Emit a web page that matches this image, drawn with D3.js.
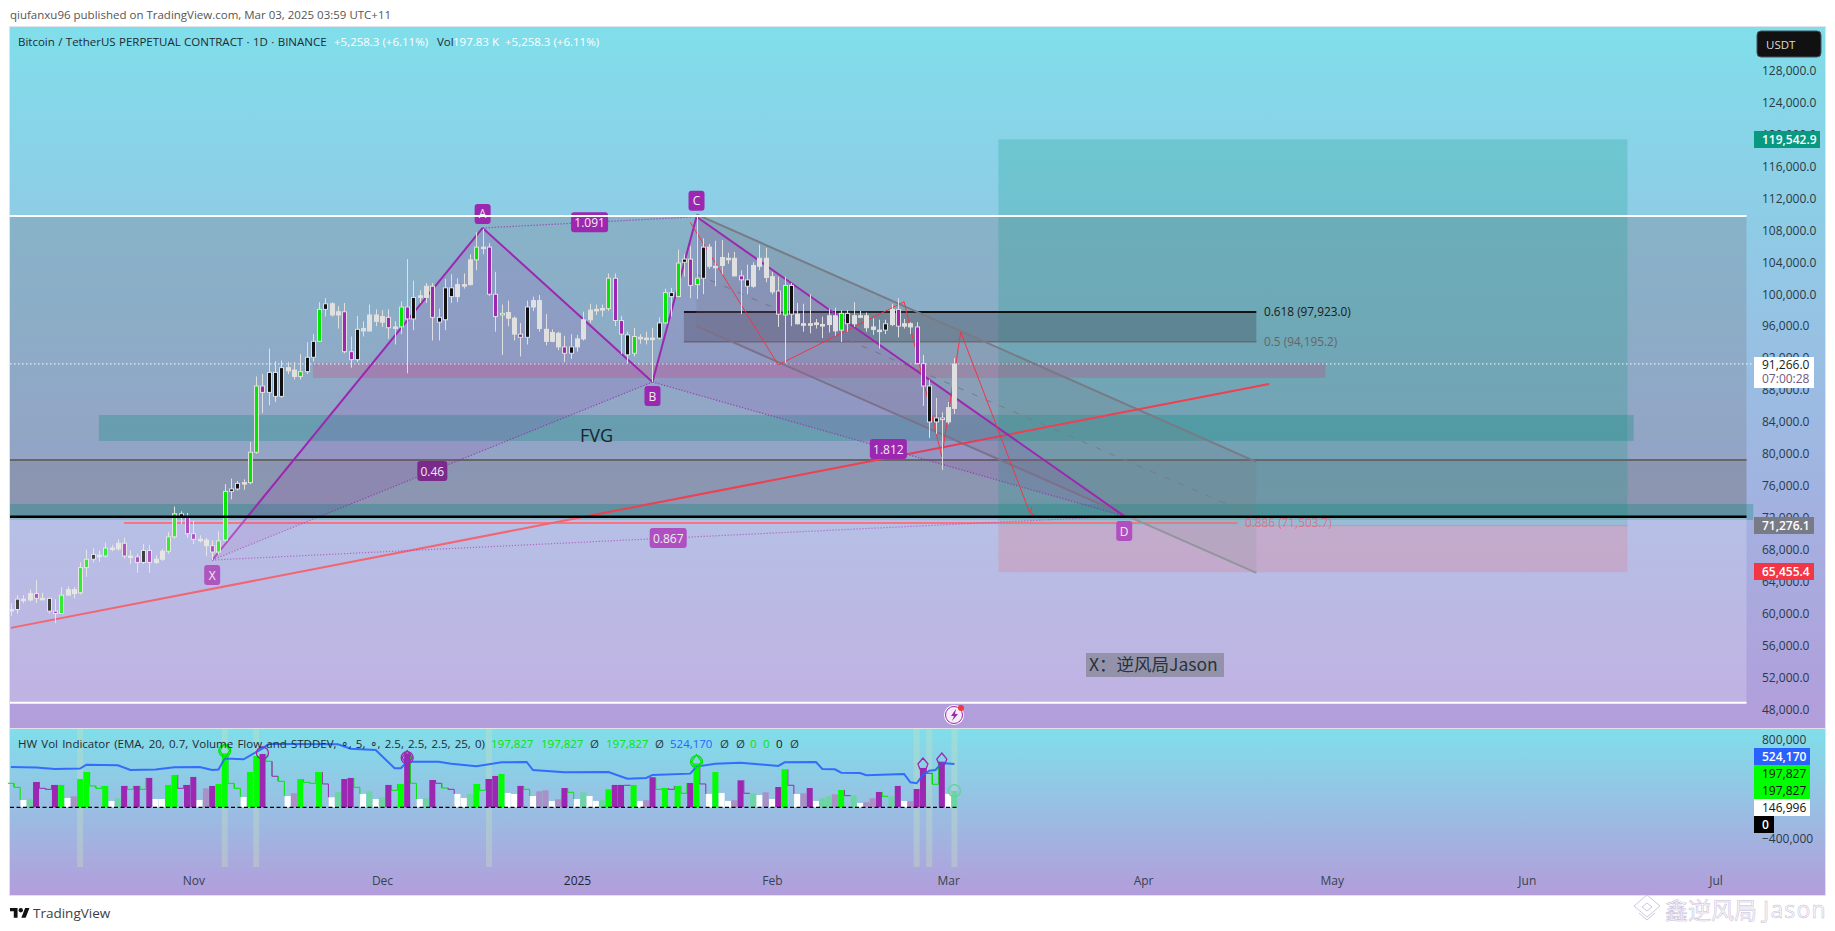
<!DOCTYPE html>
<html>
<head>
<meta charset="utf-8">
<style>
  html, body { margin: 0; padding: 0; background: #fff; overflow: hidden; }
  text { font-family: "Open Sans", sans-serif; }
  .cjk { font-family: "Noto Sans CJK SC", sans-serif; }
</style>
<script src="https://cdn.jsdelivr.net/npm/d3@7"></script>
</head>
<body>
<svg id="chart" width="1835" height="931"></svg>
<script>
// daily bars, first one is 2024-10-03
var firstBar = "2024-10-03";

var opens = [
  60500,60500,61800,61700,62500,61900,61900,60300,60000,62300,63000,62600,65750,66800,67300,67200,68200,68100,68800,67200,67100,66400,67900,66400,66800,67800,69600,72500,72100,
  70000,69300,69200,68500,67700,69200,75300,75600,76400,76400,80200,88500,87700,90200,87200,90800,90500,89700,90300,92100,94100,98100,98800,97400,97800,92800,91800,95700,95400,97400,
  96500,97100,95900,95900,98400,96900,99600,99600,101000,97100,96800,100800,99700,101200,101200,104300,105900,105900,100000,97400,97700,97000,95000,94600,98400,99200,95600,94100,95100,93400,92600,
  93400,94400,96800,98000,98100,98200,102000,96700,94900,92600,94600,94500,94500,94500,96400,100200,99700,104000,104400,101200,102000,105900,103500,103600,104500,104500,102300,101800,101000,103500,104500,
  102200,100400,97400,101100,97500,96300,96300,96400,96200,96200,97300,95500,97600,96300,97300,97300,95900,95500,95500,96200,98100,96300,96300,95900,91300,88500,84000,84500,
  84000,85700
];
var highs = [
  61300,62300,62300,63000,64200,62600,62000,61800,63300,63400,63300,66400,68000,68200,67900,68900,68600,69300,69500,67900,67500,68700,68600,67300,68100,70200,73400,72800,72600,
  71600,69800,69500,69200,70300,76200,76900,76600,76800,81500,89700,90000,93200,91600,91700,91500,91500,92500,94000,95000,99000,99500,99000,98500,98900,94700,97300,96600,98700,98100,
  98000,98100,96600,99100,104400,101700,100500,101400,101400,98200,101900,102500,102000,102600,105000,107800,108200,106400,102800,98700,99200,97200,96400,99200,99700,99900,97500,95600,95300,94800,95000,
  94900,97800,98800,98700,98700,102600,102600,97300,95300,95800,95000,95300,95800,97100,100700,100800,105600,105000,106000,109900,107000,106300,106700,106800,105200,105300,103000,103700,104000,106200,105800,
  102800,102200,102200,101400,98900,98800,100000,96900,97200,98200,98300,98000,98000,99000,97900,97700,97000,96800,96800,98800,99500,96900,96500,96500,92400,89300,87000,85200,
  86500,92000
];
var lows = [
  59700,60000,61300,61500,61300,61700,60000,58800,60000,62300,61900,62400,64600,66400,66500,67000,67800,67900,66900,66200,65100,66200,65100,66200,66600,67500,69400,71200,69500,
  68700,68900,67200,66700,67400,69000,74300,75400,75500,76200,80000,85100,86100,86500,87000,90000,89300,89300,90000,91600,94000,97200,97200,95700,92600,90800,91500,94700,95300,96000,
  95900,94400,93700,95000,90100,95500,98900,98900,94200,94200,95500,98900,99000,100700,101100,103000,105000,99800,95300,92400,96000,94200,92200,93700,97900,95300,93600,94000,93000,91500,91900,
  92800,94200,96400,97400,97200,97900,96000,92500,91300,92200,93800,93700,89000,94300,96300,97200,99700,102200,99500,99400,100000,103200,101000,102500,103800,102200,97500,100000,100800,103000,101500,
  100000,95900,91400,96000,96200,95300,95100,95700,94500,95200,94800,94000,95300,95900,97000,95300,94900,93200,95000,96000,94600,95700,95000,91200,86000,82000,82500,78000,
  83700,85000
];
var closes = [
  60500,61800,61800,62500,61900,61900,60300,60000,62300,63000,62500,65750,66800,67400,67200,68200,68200,68800,67200,67200,66400,67900,66400,66800,67800,69600,72500,72100,70000,
  69300,69300,68500,67700,69100,75300,75600,76300,76400,80200,88500,87700,90200,87200,90800,90400,89700,90300,92100,94100,98100,98800,97400,97800,92800,91800,95600,95400,97400,96600,
  97200,95800,95900,98400,96900,99600,99800,101000,97100,96500,100800,99700,101200,101200,104300,105900,105900,100000,97200,97600,97000,95000,94600,98400,99200,95700,94100,95200,93400,92600,93400,
  94400,96800,98000,98100,98200,102000,96700,95000,92400,94700,94500,94500,94500,96400,100200,99700,103900,104400,101100,102000,105900,103500,103500,104600,104500,102300,101800,101000,103600,104500,102100,
  100300,97500,101100,97500,96300,96300,96300,96400,96200,97300,95400,97600,96300,97300,97300,95800,95600,95500,96300,98100,96000,96000,95900,91300,88500,84000,84500,84300,
  85800,91266
];
// g green, p purple, w white, k black
var candleKinds = (
  "wkwwpwkpgwwggkwgwwpwpkpwwggkp" +
  "pwwpggkkwggpkkkwwgkkgkwwppkwww" +
  "wpwgpkwwpkkkwwwgwppgwwpkwwwwwpk" +
  "wwwwwgppkgwwwkgkgkpgkwwwwwpkwww" +
  "wpgkwwwwwwwgkwwwwwkwpwwppkkp" +
  "ww"
).split("");

var volValues = [
  291,242,89,97,307,230,218,271,271,113,133,343,428,259,230,259,77,109,259,218,259,218,356,101,101,271,392,230,271,
  368,89,230,259,283,654,291,230,125,428,622,646,558,376,315,137,170,343,303,291,428,283,121,182,343,356,242,162,194,101,
  121,271,206,283,654,291,101,109,331,291,234,218,162,113,162,283,206,343,380,404,174,162,259,218,137,194,206,77,97,234,182,
  101,182,137,77,85,218,271,271,267,271,77,85,364,218,234,218,259,170,295,533,283,162,428,174,77,85,327,170,170,149,182,
  101,246,461,267,162,170,234,77,109,133,158,210,141,145,53,61,109,186,133,133,259,77,73,222,477,412,279,553,
  162,198
];
// g green, p purple, w white, l light green, h faded purple, sg / sp only the step line
var volKinds = [
  "sg","sg","w","l","p","sp","sp","p","g","w","h","g","g","sg","sg","g","w","l","p","sg","p","sg","p","w","w","g","g","sp","p",
  "p","w","h","p","g","g","sg","sg","w","g","g","p","sg","sp","sg","w","h","g","sg","sg","g","sp","w","l","p","p","sg","w","l","w",
  "l","p","sg","g","p","sg","w","l","p","sp","sg","sp","w","w","l","g","sg","p","p","g","w","w","p","sg","w","h","h","w","h","p","sg",
  "w","l","w","w","l","g","p","p","sp","g","w","h","p","sg","g","sp","g","sg","p","g","sp","w","g","w","w","h","p","sp","l","w","h",
  "w","p","g","sp","w","h","p","w","l","l","h","g","sp","l","w","h","h","p","sg","l","p","w","h","p","p","sp","sg","p",
  "w","l"
];

// blue line of the indicator, turning points only
var blueBars = [0,4,7,11,12,17,19,23,26,30,32,33,34,37,40,41,45,52,54,58,61,62,63,68,70,74,78,82,83,88,95,98,101,102,108,109,112,116,122,123,128,129,131,132,135,136,142,143,144,145,146,147,148,150];
var blueValues = [489,481,465,469,517,509,452,457,485,489,452,457,590,582,715,768,768,764,711,695,473,473,553,553,529,497,545,549,452,424,428,347,356,392,408,493,529,541,501,545,549,465,461,420,416,388,404,303,291,392,444,452,537,524];

var signalDates = ["2024-11-06","2024-11-12","2024-12-05","2025-01-20","2025-02-25","2025-02-28","2025-03-02"];
var signalValues = [686000,658000,601000,553000,513000,573000,201000];
var signalKinds = ["g","p","p","g","pa","pa","r"];
var bandDates = ["2024-10-14","2024-11-06","2024-11-11","2024-12-18","2025-02-24","2025-02-26","2025-03-02"];

var priceTicks = d3.range(128000, 47999, -4000);
var volTicks = [800000, -400000];
var monthTicks = ["2024-11-01","2024-12-01","2025-01-01","2025-02-01","2025-03-01","2025-04-01","2025-05-01","2025-06-01","2025-07-01"];
var monthLabels = ["Nov","Dec","2025","Feb","Mar","Apr","May","Jun","Jul"];

// harmonic pattern points X A B C D
var patternNames = ["X","A","B","C","D"];
var patternDates = ["2024-11-04","2024-12-17","2025-01-13","2025-01-20","2025-03-29"];
var patternPrices = [66700,108300,89000,109700,72200];
var ratioLabels = [["1.091",1,3],["0.46",0,2],["1.812",2,4],["0.867",0,4]];

var channelDates = ["2025-01-20","2025-04-19"];
var channelTop = [110000,79000];
var channelMid = [102500,72100];
var channelBottom = [96000,65100];

var zigDates = ["2025-01-19","2025-02-02","2025-02-22","2025-02-28","2025-03-03","2025-03-14"];
var zigPrices = [109000,91150,99050,79650,95250,72600];

var trendDates = ["2024-10-03","2025-04-21"];
var trendPrices = [58200,88750];

// levels as they sit on the picture
var tpLevel = 119400, entryLevel = 71000, stopLevel = 65180;
var fibHigh = 97780, fibLow = 94050, fibRed = 71340;

var parse = d3.utcParse("%Y-%m-%d");
var barDates = opens.map((d, i) => d3.utcDay.offset(parse(firstBar), i));

var svg = d3.select("#chart");
var defs = svg.append("defs");

var grad = defs.append("linearGradient").attr("id", "paneBg").attr("x1", 0).attr("x2", 0).attr("y1", 0).attr("y2", 1);
grad.append("stop").attr("offset", "0%").attr("stop-color", "#80deea");
grad.append("stop").attr("offset", "100%").attr("stop-color", "#b39ddb");

defs.append("clipPath").attr("id", "mainClip").append("rect")
  .attr("x", 10).attr("y", 27).attr("width", 1815).attr("height", 701);

defs.append("marker").attr("id", "arrow").attr("viewBox", "0 0 10 10").attr("refX", 5).attr("refY", 9)
  .attr("markerWidth", 10).attr("markerHeight", 10).attr("orient", "auto-start-reverse")
  .append("path").attr("d", "M0,5 L5,9 L10,5").attr("fill", "none").attr("stroke", "#f23645");

var x = d3.scaleUtc().domain([parse("2025-01-01"), parse("2025-07-01")]).range([577, 577 + 181 * 6.29]);
var y = d3.scaleLinear().domain([128000, 48000]).range([70.7, 709.3]);
var v = d3.scaleLinear().domain([0, 800000]).range([807.3, 741.3]);

// page header and pane frames
svg.append("text").attr("x", 10).attr("y", 19).attr("font-size", 11.5).attr("fill", "#555")
  .text("qiufanxu96 published on TradingView.com, Mar 03, 2025 03:59 UTC+11");

svg.append("rect").attr("x", 9.5).attr("y", 26.5).attr("width", 1816).attr("height", 869).attr("fill", "none").attr("stroke", "#e0e3eb");
svg.append("rect").attr("x", 10).attr("y", 27).attr("width", 1815).attr("height", 701).attr("fill", "url(#paneBg)");
svg.append("rect").attr("x", 10).attr("y", 729).attr("width", 1815).attr("height", 166).attr("fill", "url(#paneBg)");
svg.append("line").attr("x1", 10).attr("x2", 1825).attr("y1", 728.5).attr("y2", 728.5).attr("stroke", "#e0e3eb");

var main = svg.append("g").attr("clip-path", "url(#mainClip)");

// candles
var candleLayer = main.append("g");
var candleFill = { g: "#00e600", p: "#9c27b0", w: "#e0e0e0", k: "#111" };

var candles = candleLayer.selectAll("g.candle").data(barDates).enter().append("g").attr("class", "candle");
candles.append("line")
  .attr("x1", d => Math.round(x(d)) + 0.5).attr("x2", d => Math.round(x(d)) + 0.5)
  .attr("y1", (d, i) => y(highs[i])).attr("y2", (d, i) => y(lows[i]))
  .attr("stroke", "#e0e0e0").attr("stroke-width", 1);
candles.append("rect")
  .attr("x", d => Math.round(x(d)) - 1.5).attr("width", 4)
  .attr("y", (d, i) => y(Math.max(opens[i], closes[i])))
  .attr("height", (d, i) => Math.max(1.5, y(Math.min(opens[i], closes[i])) - y(Math.max(opens[i], closes[i]))))
  .attr("fill", (d, i) => candleFill[candleKinds[i]])
  .attr("stroke", "#e0e0e0").attr("stroke-width", 1);

// helper for the horizontal zones
function zone(d0, d1, p0, p1, fill) {
  return main.append("rect")
    .attr("x", d0 == null ? 10 : x(parse(d0))).attr("width", (d1 == null ? 1746.5 : x(parse(d1))) - (d0 == null ? 10 : x(parse(d0))))
    .attr("y", y(p0)).attr("height", y(p1) - y(p0)).attr("fill", fill);
}
function hline(d0, d1, p, color, w) {
  return main.append("line")
    .attr("x1", d0 == null ? 10 : x(parse(d0))).attr("x2", d1 == null ? 1746.5 : x(parse(d1)))
    .attr("y1", y(p)).attr("y2", y(p)).attr("stroke", color).attr("stroke-width", w);
}

// big range box
zone(null, null, 109800, 72130, "rgba(120,123,134,.3)");
var lowerZone = zone(null, null, 72130, 48830, "rgba(255,255,255,.2)");
zone(null, null, 79230, 72130, "rgba(120,123,134,.3)");

// long position box
zone("2025-03-09", "2025-06-17", tpLevel, entryLevel, "rgba(8,153,129,.22)");
zone("2025-03-09", "2025-06-17", entryLevel, stopLevel, "rgba(242,54,69,.2)");

// fvg and support zones
zone("2024-10-17", "2025-06-18", 84870, 81620, "rgba(0,137,123,.28)");
zone(null, "2025-07-07", 73720, 71720, "rgba(0,137,123,.3)");
zone("2024-11-20", "2025-04-30", 91400, 89520, "rgba(233,30,99,.2)");

// fib levels
zone("2025-01-18", "2025-04-19", fibHigh, fibLow, "rgba(60,70,80,.35)");
hline("2025-01-18", "2025-04-19", fibHigh, "#111", 2);
hline("2025-01-18", "2025-04-19", fibLow, "#6a6a6a", 1.5);
hline("2024-10-21", "2025-04-16", fibRed, "#f7525f", 2);
hline("2025-04-17", "2025-06-17", entryLevel, "#8d8f9b", 1);

svg.append("text").attr("x", 1264).attr("y", 316).attr("font-size", 11.8).attr("fill", "#1a1a1a").text("0.618 (97,923.0)");
svg.append("text").attr("x", 1264).attr("y", 346).attr("font-size", 11.8).attr("fill", "#666").text("0.5 (94,195.2)");
svg.append("text").attr("x", 1245).attr("y", 527).attr("font-size", 11.8).attr("fill", "rgba(242,82,95,.65)").text("0.886 (71,503.7)");

// range box borders
hline(null, null, 48830, "#fff", 2);
hline(null, null, 79230, "#666", 2);

// last price dotted line
main.append("line").attr("x1", 10).attr("x2", 1755).attr("y1", y(91266)).attr("y2", y(91266))
  .attr("stroke", "#fff").attr("stroke-dasharray", "1.5 2.5");

// channel
var cx = channelDates.map(d => x(parse(d)));
main.append("path")
  .attr("d", d3.line()([[cx[0], y(channelTop[0])], [cx[1], y(channelTop[1])], [cx[1], y(channelBottom[1])], [cx[0], y(channelBottom[0])]]) + "Z")
  .attr("fill", "rgba(120,123,134,.22)");
[channelTop, channelBottom].forEach(function(c) {
  main.append("line").attr("x1", cx[0]).attr("x2", cx[1]).attr("y1", y(c[0])).attr("y2", y(c[1]))
    .attr("stroke", "#787b86").attr("stroke-width", 2);
});
main.append("line").attr("x1", cx[0]).attr("x2", cx[1]).attr("y1", y(channelMid[0])).attr("y2", y(channelMid[1]))
  .attr("stroke", "#787b86").attr("stroke-dasharray", "6 9");

// trend line
main.append("line")
  .attr("x1", x(parse(trendDates[0]))).attr("x2", x(parse(trendDates[1])))
  .attr("y1", y(trendPrices[0])).attr("y2", y(trendPrices[1]))
  .attr("stroke", "#ef3f50").attr("stroke-width", 2);

// harmonic pattern
var pts = patternDates.map((d, i) => [x(parse(d)), y(patternPrices[i])]);
[[0, 1, 2], [2, 3, 4]].forEach(function(t) {
  main.append("path").attr("d", d3.line()(t.map(i => pts[i])) + "Z").attr("fill", "rgba(156,39,176,.12)");
});
[[0, 1], [1, 2], [2, 3], [3, 4]].forEach(function(s) {
  main.append("line").attr("x1", pts[s[0]][0]).attr("y1", pts[s[0]][1]).attr("x2", pts[s[1]][0]).attr("y2", pts[s[1]][1])
    .attr("stroke", "#9c27b0").attr("stroke-width", 2);
});
[[1, 3], [0, 2], [2, 4], [0, 4]].forEach(function(s) {
  main.append("line").attr("x1", pts[s[0]][0]).attr("y1", pts[s[0]][1]).attr("x2", pts[s[1]][0]).attr("y2", pts[s[1]][1])
    .attr("stroke", "#9c27b0").attr("stroke-width", 1.2).attr("stroke-dasharray", "1.2 1.8").attr("opacity", .8);
});

// red forecast path
main.append("path")
  .attr("d", d3.line()(zigDates.map((d, i) => [x(parse(d)), y(zigPrices[i])])))
  .attr("fill", "none").attr("stroke", "#f23645").attr("stroke-width", 1)
  .attr("marker-end", "url(#arrow)");

// bars sit over the drawings, only the pale lower zone and the black line wash over them
candleLayer.raise();
lowerZone.raise();
hline(null, null, 72130, "#000", 2.5);

// labels on the pattern
function tag(cxp, cyp, txt, w, fill) {
  var g = svg.append("g").attr("transform", `translate(${cxp},${cyp})`);
  g.append("rect").attr("x", -w / 2).attr("y", -10).attr("width", w).attr("height", 20).attr("rx", 3).attr("fill", fill);
  g.append("text").attr("text-anchor", "middle").attr("y", 4.5).attr("font-size", 12).attr("fill", "#eee").text(txt);
}
var tagOffsets = [15, -14, 14, -16, 15];
var tagFills = ["#ae55c0", "#9c27b0", "#9c27b0", "#9c27b0", "#b04fc0"];
patternNames.forEach(function(n, i) {
  tag(pts[i][0], pts[i][1] + tagOffsets[i], n, 16, tagFills[i]);
});
ratioLabels.forEach(function(r, i) {
  var mx = (pts[r[1]][0] + pts[r[2]][0]) / 2, my = (pts[r[1]][1] + pts[r[2]][1]) / 2;
  tag(mx, my, r[0], r[0].length > 4 ? 37 : 30, ["#9c27b0", "#7b2a8c", "#9c27b0", "#b04fc0"][i]);
});

// top border crosses the A tag
svg.append("line").attr("x1", 10).attr("x2", 1746.5).attr("y1", y(109800)).attr("y2", y(109800)).attr("stroke", "#fff").attr("stroke-width", 2);

svg.append("text").attr("x", 580).attr("y", 442).attr("font-size", 18).attr("fill", "#16242c").text("FVG");

// author note
svg.append("rect").attr("x", 1086).attr("y", 653).attr("width", 138).attr("height", 24).attr("fill", "rgba(120,123,134,.6)");
svg.append("text").attr("class", "cjk").attr("x", 1089).attr("y", 671).attr("font-size", 17.5).attr("fill", "#26343c").text("X：逆风局Jason");

// lightning badge
svg.append("circle").attr("cx", 954).attr("cy", 715).attr("r", 10).attr("fill", "#fff");
svg.append("circle").attr("cx", 954).attr("cy", 715).attr("r", 8.5).attr("fill", "#f4edf7").attr("stroke", "#9c27b0").attr("stroke-width", 1);
svg.append("path").attr("d", "M956,709 L951,716 L954,716 L952,721 L958,714 L955,714 Z").attr("fill", "#9c27b0");
svg.append("circle").attr("cx", 961).attr("cy", 708).attr("r", 3).attr("fill", "#f23645");

// main legend
var legendY = 46;
function legend(px, txt, color, py) {
  return svg.append("text").attr("x", px).attr("y", py || legendY).attr("font-size", 11.5).attr("fill", color).text(txt);
}
legend(18, "Bitcoin / TetherUS PERPETUAL CONTRACT · 1D · BINANCE", "#1c2b33").attr("word-spacing", .4);
legend(334, "+5,258.3 (+6.11%)", "#fff");
legend(437, "Vol", "#1c2b33");
legend(453, "197.83 K", "#fff");
legend(505, "+5,258.3 (+6.11%)", "#fff");

// price axis
var priceAxis = svg.append("g").attr("transform", "translate(1757,0)")
  .call(d3.axisRight(y).tickValues(priceTicks).tickSize(0).tickPadding(5).tickFormat(d3.format(",.1f")));
priceAxis.select(".domain").remove();
priceAxis.selectAll("text").attr("font-family", "Open Sans").attr("font-size", 12).attr("fill", "#2a3a44");

function axisBox(px, py, w, h, fill, txt, color, bold) {
  svg.append("rect").attr("x", px).attr("y", py).attr("width", w).attr("height", h).attr("fill", fill);
  svg.append("text").attr("x", px + 8).attr("y", py + h / 2 + 4.5).attr("font-size", 12)
    .attr("font-weight", bold ? 600 : 400).attr("fill", color).text(txt);
}
svg.append("rect").attr("x", 1757).attr("y", 31).attr("width", 64).attr("height", 26).attr("rx", 4).attr("fill", "#111").attr("stroke", "#44555e");
svg.append("text").attr("x", 1766).attr("y", 49).attr("font-size", 11.5).attr("fill", "#ddd").text("USDT");

axisBox(1754, 131, 66, 17, "#089981", "119,542.9", "#fff", true);
svg.append("rect").attr("x", 1754).attr("y", 357).attr("width", 60).attr("height", 31).attr("fill", "#fff");
svg.append("text").attr("x", 1762).attr("y", 369).attr("font-size", 12).attr("fill", "#1a1a1a").text("91,266.0");
svg.append("text").attr("x", 1762).attr("y", 383).attr("font-size", 12).attr("fill", "#6d5a80").text("07:00:28");
axisBox(1754, 517, 60, 17, "#787b86", "71,276.1", "#fff", true);
axisBox(1754, 563, 60, 17, "#f23645", "65,455.4", "#fff", true);

// indicator pane
var pane = svg.append("g");

pane.selectAll("rect.band").data(bandDates).enter().append("rect").attr("class", "band")
  .attr("x", d => x(parse(d)) - 3).attr("width", 6).attr("y", 729).attr("height", 138)
  .attr("fill", "rgba(200,225,190,.35)");

var barW = 6;
var volFill = { g: "#00ff00", p: "#9c27b0", w: "#fff", l: "#6bd6a4", h: "#a990c6" };

// the step outline goes first so filled columns sit over it
pane.selectAll("path.step").data(barDates).enter().append("path").attr("class", "step")
  .filter((d, i) => volKinds[i][0] == "s")
  .attr("d", function(d) {
    var i = barDates.indexOf(d);
    var prev = i > 0 ? volValues[i - 1] : volValues[i];
    var next = i < volValues.length - 1 ? volValues[i + 1] : volValues[i];
    return d3.line()([
      [x(d) - barW / 2, v(prev * 1000)],
      [x(d) - barW / 2, v(volValues[i] * 1000)],
      [x(d) + barW / 2, v(volValues[i] * 1000)],
      [x(d) + barW / 2, v(next * 1000)]
    ]);
  })
  .attr("fill", "none").attr("stroke", d => volKinds[barDates.indexOf(d)] == "sg" ? "#00e600" : "#9c27b0");

pane.selectAll("rect.vol").data(barDates).enter().append("rect").attr("class", "vol")
  .filter((d, i) => volKinds[i][0] != "s")
  .attr("x", d => x(d) - barW / 2).attr("width", barW)
  .attr("y", d => v(volValues[barDates.indexOf(d)] * 1000))
  .attr("height", d => v(0) - v(volValues[barDates.indexOf(d)] * 1000))
  .attr("fill", d => volFill[volKinds[barDates.indexOf(d)]]);

pane.append("line").attr("x1", 10).attr("x2", x(barDates[barDates.length - 1]) + 3)
  .attr("y1", v(0)).attr("y2", v(0)).attr("stroke", "#000").attr("stroke-width", 1.2).attr("stroke-dasharray", "4 2.5");

pane.append("path")
  .attr("d", d3.line().x(d => x(barDates[d[0]])).y(d => v(d[1] * 1000))(blueBars.map((b, i) => [b, blueValues[i]])))
  .attr("fill", "none").attr("stroke", "#2962ff").attr("stroke-width", 2).attr("opacity", .9);

// signal marks
signalDates.forEach(function(d, i) {
  var sx = x(parse(d)), sy = v(signalValues[i]), k = signalKinds[i];
  var col = k == "g" ? "#00e600" : k == "r" ? "#5fd39a" : "#9c27b0";
  var g = pane.append("g").attr("transform", `translate(${sx},${sy})`).attr("fill", "none").attr("stroke", col).attr("stroke-width", 1.3);
  if (k != "pa") g.append("circle").attr("r", 6);
  if (k == "g" || i == 2) g.append("path").attr("d", "M0,-7 L5,0 L0,7 L-5,0 Z");
  if (k == "pa") g.append("path").attr("d", "M0,-7 L5,-1 L3,4 L-3,4 L-5,-1 Z");
});

// indicator legend
var lg = 748;
legend(18, "HW Vol Indicator (EMA, 20, 0.7, Volume Flow and STDDEV, ∘, 5, ∘, 2.5, 2.5, 2.5, 25, 0)", "#1c2b33", lg).attr("word-spacing", 1.2);
legend(491, "197,827", "#00e600", lg);
legend(541, "197,827", "#00e600", lg);
legend(590, "Ø", "#2a3a44", lg);
legend(606, "197,827", "#00e600", lg);
legend(655, "Ø", "#2a3a44", lg);
legend(670, "524,170", "#2962ff", lg);
legend(720, "Ø", "#2a3a44", lg);
legend(736, "Ø", "#2a3a44", lg);
legend(750, "0", "#00e600", lg);
legend(763, "0", "#00e600", lg);
legend(776, "0", "#111", lg);
legend(790, "Ø", "#2a3a44", lg);

var volAxis = svg.append("g").attr("transform", "translate(1757,-2)")
  .call(d3.axisRight(v).tickValues(volTicks).tickSize(0).tickPadding(5).tickFormat(d3.format(",")));
volAxis.select(".domain").remove();
volAxis.selectAll("text").attr("font-family", "Open Sans").attr("font-size", 12).attr("fill", "#2a3a44")
  .text(d => d3.format(",")(d).replace("-", "−"));

axisBox(1754, 748, 56, 17, "#2962ff", "524,170", "#fff", true);
axisBox(1754, 765, 56, 17, "#00ff00", "197,827", "#111");
axisBox(1754, 782, 56, 17, "#00ff00", "197,827", "#111");
axisBox(1754, 799, 56, 17, "#fff", "146,996", "#111");
axisBox(1754, 816, 20, 17, "#000", "0", "#fff", true);

// time axis
var timeAxis = svg.append("g").attr("transform", "translate(0,870)")
  .call(d3.axisBottom(x).tickValues(monthTicks.map(parse)).tickSize(0).tickPadding(6)
    .tickFormat((d, i) => monthLabels[i]));
timeAxis.select(".domain").remove();
timeAxis.selectAll("text").attr("font-family", "Open Sans").attr("font-size", 12)
  .attr("fill", d => d.getUTCMonth() == 0 ? "#1c2630" : "#37424e");

// footer
var logo = svg.append("g").attr("transform", "translate(10,907) scale(.54)").attr("fill", "#111");
logo.append("path").attr("d", "M14 2H0v6h7v12h7V2Z");
logo.append("circle").attr("cx", 20).attr("cy", 6).attr("r", 4);
logo.append("path").attr("d", "M36 2h-8L21 20h8L36 2Z");
svg.append("text").attr("x", 33).attr("y", 918).attr("font-size", 13.5).attr("fill", "#3a3f48").text("TradingView");

// repost watermark
var mark = svg.append("g").attr("fill", "none").attr("stroke", "#cfc8df").attr("stroke-width", 1);
mark.append("path").attr("d", "M1647,895 L1660,906 L1647,917 L1634,906 Z");
mark.append("path").attr("d", "M1647,903 L1652,907 L1647,911 L1642,907 Z");
mark.append("path").attr("d", "M1647,920 L1655,913 M1647,920 L1639,913");
svg.append("text").attr("class", "cjk").attr("x", 1665).attr("y", 919).attr("font-size", 23)
  .attr("fill", "#faf8fc").attr("stroke", "#c6bdd9").attr("stroke-width", .5).text("鑫逆风局");
svg.append("text").attr("x", 1763).attr("y", 918).attr("font-size", 23).attr("letter-spacing", 1.2)
  .attr("fill", "#faf8fc").attr("stroke", "#c6bdd9").attr("stroke-width", .5).text("Jason");
</script>
</body>
</html>
